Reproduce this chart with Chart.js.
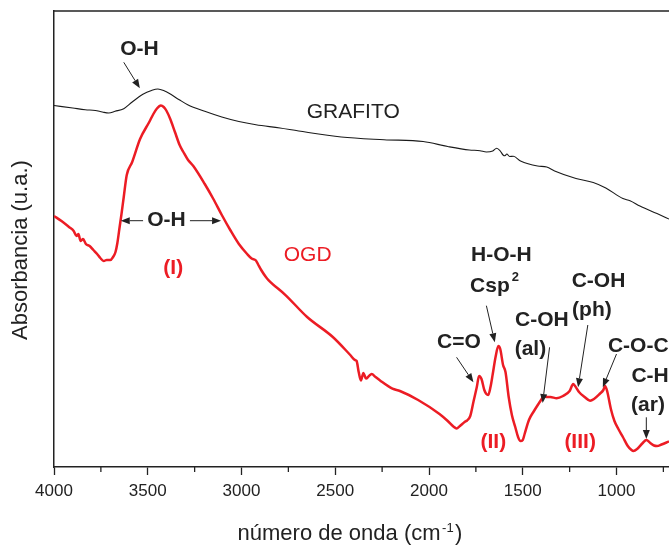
<!DOCTYPE html>
<html>
<head>
<meta charset="utf-8">
<script src="https://cdn.jsdelivr.net/npm/chart.js@4.4.0/dist/chart.umd.min.js"></script>
<style>
  html, body { margin: 0; padding: 0; background: #fff; }
  canvas { display: block; }
</style>
</head>
<body>
<canvas id="ftirChart" width="669" height="547"></canvas>
<script>
// FTIR spectra: wavenumber (cm-1) and absorbance (a.u.)
const grafitoWn  = [4000, 3900, 3833, 3780, 3742, 3708, 3674, 3628, 3583, 3526, 3480, 3446, 3410, 3389, 3332, 3287, 3196, 3105, 3014, 2923, 2795, 2695, 2468, 2240, 2031, 1900, 1785, 1728, 1694, 1660, 1639, 1620, 1605, 1595, 1585, 1570, 1550, 1512, 1421, 1372, 1330, 1216, 1124, 1057, 966, 928, 875, 784, 720];
const grafitoAbs = [361.5, 359, 357.3, 356.5, 355, 354, 355.7, 358.3, 365, 372.7, 376.5, 378, 376, 374, 367.3, 362.3, 355.7, 350, 345.5, 342.3, 339, 336, 330, 327.3, 325.5, 320.5, 317, 316.3, 315, 316, 318.7, 316, 312, 311.3, 313, 310.5, 310.7, 306, 301, 300, 296, 288.5, 284.5, 279, 268.5, 266.3, 261, 253.5, 248];

const ogdWn  = [4000, 3960, 3920, 3895, 3880, 3870, 3858, 3845, 3830, 3810, 3790, 3770, 3753, 3735, 3719, 3700, 3685, 3672, 3662, 3650, 3640, 3628, 3612, 3583, 3541, 3492, 3470, 3451, 3430, 3415, 3401, 3380, 3355, 3330, 3310, 3285, 3257, 3196, 3150, 3105, 3060, 3014, 2970, 2946, 2923, 2910, 2895, 2870, 2855, 2764, 2650, 2513, 2420, 2395, 2386, 2375, 2363, 2350, 2336, 2320, 2306, 2285, 2261, 2195, 2155, 2058, 1944, 1900, 1870, 1853, 1835, 1810, 1797, 1780, 1762, 1745, 1733, 1720, 1705, 1694, 1684, 1672, 1660, 1645, 1630, 1620, 1605, 1592, 1575, 1558, 1540, 1525, 1512, 1500, 1490, 1467, 1440, 1420, 1399, 1390, 1370, 1353, 1319, 1285, 1250, 1231, 1221, 1200, 1170, 1141, 1120, 1090, 1070, 1061, 1050, 1030, 1011, 990, 966, 940, 920, 910, 890, 860, 841, 820, 800, 784, 760, 720];
const ogdAbs = [251, 246, 240, 236, 231, 233, 226, 228, 223, 221, 217, 213, 209, 206, 207, 207, 210, 215, 224, 240, 253, 270, 292, 305, 328, 345, 353, 358.5, 361.5, 360, 356.5, 348, 335, 322, 315, 307, 301, 283, 268, 252, 237, 223, 213, 208.5, 206.5, 202, 197, 190, 186.7, 171.7, 150, 130, 112, 107, 106, 95, 86.5, 94, 88.5, 91, 93, 90, 86.5, 78.3, 76, 67, 53, 46, 40.5, 38.5, 41, 45, 46.5, 51, 66, 80, 91, 88, 77, 73, 72, 80, 93, 110, 121, 118, 102, 95, 70, 52, 40, 30, 26, 27, 33, 47, 56, 62, 68, 71, 70, 70, 68.7, 71, 76, 83, 81, 75, 70, 66.3, 68, 73, 77, 81, 76, 58, 46, 38, 30, 21, 17, 16, 18, 24, 27, 24, 21.5, 21, 22.5, 25.5];

const majorTicks = [4000, 3500, 3000, 2500, 2000, 1500, 1000];
const minorTicks = [3750, 3250, 2750, 2250, 1750, 1250, 750];

// band labels: [text, wavenumber, absorbance, red?, bold?, superscript]
const bandLabels = [
  ['O-H', 3544, 418, false, true, ''],
  ['GRAFITO', 2404, 354.7, false, false, ''],
  ['O-H', 3400, 246.3, false, true, ''],
  ['(I)', 3364, 198.7, true, true, ''],
  ['OGD', 2647, 212, true, false, ''],
  ['H-O-H', 1614, 212, false, true, ''],
  ['Csp', 1675, 180.7, false, true, '2'],
  ['C=O', 1840, 124.3, false, true, ''],
  ['C-OH', 1398, 146.3, false, true, ''],
  ['(al)', 1459, 118, false, true, ''],
  ['C-OH', 1096, 185.3, false, true, ''],
  ['(ph)', 1131, 156.3, false, true, ''],
  ['C-O-C', 884, 120.7, false, true, ''],
  ['C-H', 821, 90.3, false, true, ''],
  ['(ar)', 832, 61.3, false, true, ''],
  ['(II)', 1657, 24.7, true, true, ''],
  ['(III)', 1194, 24.7, true, true, '']
];

// arrows: [fromWn, fromAbs, toWn, toAbs]
const bandArrows = [
  [3628, 404.7, 3542, 378.7],
  [3525, 246.3, 3644, 246.3],
  [3275, 246.3, 3109, 246.3],
  [1694, 161.3, 1649, 124.7],
  [1853, 109.7, 1763, 84.7],
  [1357, 119.7, 1394, 64],
  [1153, 142, 1205, 79.7],
  [1000, 113, 1073, 79.7],
  [841, 49.7, 841, 28]
];

const FONT = 'Liberation Sans, Arial, sans-serif';
const RED = '#ec1c24';
const INK = '#222';

function arrow(ctx, x1, y1, x2, y2) {
  const ang = Math.atan2(y2 - y1, x2 - x1);
  const len = 9, half = 3.5;
  const bx = x2 - len * Math.cos(ang), by = y2 - len * Math.sin(ang);
  ctx.beginPath();
  ctx.moveTo(x1, y1);
  ctx.lineTo(bx, by);
  ctx.stroke();
  ctx.beginPath();
  ctx.moveTo(x2, y2);
  ctx.lineTo(bx - half * Math.sin(ang), by + half * Math.cos(ang));
  ctx.lineTo(bx + half * Math.sin(ang), by - half * Math.cos(ang));
  ctx.closePath();
  ctx.fill();
}

const annotate = {
  id: 'annotate',
  afterDraw(chart) {
    const { ctx, chartArea: a, scales: { x, y } } = chart;
    ctx.save();

    // top frame line
    ctx.strokeStyle = INK;
    ctx.lineWidth = 1.5;
    ctx.beginPath();
    ctx.moveTo(a.left, a.top);
    ctx.lineTo(a.right, a.top);
    ctx.stroke();

    // minor ticks
    ctx.lineWidth = 1.3;
    minorTicks.forEach(v => {
      const px = x.getPixelForValue(v);
      ctx.beginPath();
      ctx.moveTo(px, a.bottom);
      ctx.lineTo(px, a.bottom + 5);
      ctx.stroke();
    });

    // arrows
    ctx.strokeStyle = INK;
    ctx.fillStyle = INK;
    ctx.lineWidth = 1;
    bandArrows.forEach(r => {
      arrow(ctx, x.getPixelForValue(r[0]), y.getPixelForValue(r[1]),
                 x.getPixelForValue(r[2]), y.getPixelForValue(r[3]));
    });

    // band labels
    ctx.textBaseline = 'middle';
    ctx.textAlign = 'left';
    bandLabels.forEach(([text, wn, abs, red, bold, sup]) => {
      const px = x.getPixelForValue(wn);
      const py = y.getPixelForValue(abs);
      ctx.fillStyle = red ? RED : INK;
      ctx.font = (bold ? 'bold ' : '') + '21px ' + FONT;
      const w = ctx.measureText(text).width;
      ctx.fillText(text, px - w / 2, py);
      if (sup) {
        ctx.font = 'bold 13px ' + FONT;
        ctx.fillText(sup, px + w / 2 + 2, py - 9);
      }
    });

    // x axis title with superscript
    ctx.fillStyle = INK;
    ctx.textBaseline = 'alphabetic';
    const main = 'número de onda (cm';
    ctx.font = '22px ' + FONT;
    const wMain = ctx.measureText(main).width;
    const wClose = ctx.measureText(')').width;
    ctx.font = '13px ' + FONT;
    const wSup = ctx.measureText('-1').width;
    const sx = 350 - (wMain + wSup + wClose + 3) / 2;
    ctx.font = '22px ' + FONT;
    ctx.fillText(main, sx, 540);
    ctx.font = '13px ' + FONT;
    ctx.fillText('-1', sx + wMain + 1.5, 532);
    ctx.font = '22px ' + FONT;
    ctx.fillText(')', sx + wMain + wSup + 3, 540);

    // y axis title
    ctx.translate(21, 250);
    ctx.rotate(-Math.PI / 2);
    ctx.textAlign = 'center';
    ctx.textBaseline = 'middle';
    ctx.font = '22px ' + FONT;
    ctx.fillText('Absorbancia (u.a.)', 0, 0);

    ctx.restore();
  }
};

new Chart(document.getElementById('ftirChart'), {
  type: 'line',
  data: {
    datasets: [
      {
        label: 'GRAFITO',
        data: grafitoWn.map((v, i) => ({ x: v, y: grafitoAbs[i] })),
        borderColor: '#1a1a1a',
        borderWidth: 1.1,
        pointRadius: 0,
        cubicInterpolationMode: 'monotone',
        fill: false
      },
      {
        label: 'OGD',
        data: ogdWn.map((v, i) => ({ x: v, y: ogdAbs[i] })),
        borderColor: RED,
        borderWidth: 2.5,
        pointRadius: 0,
        cubicInterpolationMode: 'monotone',
        fill: false
      }
    ]
  },
  options: {
    responsive: false,
    devicePixelRatio: 1,
    animation: false,
    layout: { padding: { top: 11, right: 0, left: 0, bottom: 0 } },
    plugins: {
      legend: { display: false },
      tooltip: { enabled: false }
    },
    scales: {
      x: {
        type: 'linear',
        reverse: true,
        min: 720,
        max: 4000,
        afterBuildTicks: s => { s.ticks = majorTicks.map(v => ({ value: v })); },
        afterFit: s => { s.height = 80; },
        ticks: {
          color: INK,
          font: { family: FONT, size: 17 },
          padding: 6,
          maxRotation: 0,
          autoSkip: false,
          callback: v => String(v)
        },
        grid: { drawOnChartArea: false, drawTicks: true, tickLength: 8, tickColor: INK, tickWidth: 1.3 },
        border: { display: true, color: INK, width: 1.5 }
      },
      y: {
        min: 0,
        max: 456,
        ticks: { display: false },
        grid: { display: false, drawTicks: false },
        border: { display: true, color: INK, width: 1.5 },
        afterFit: s => { s.width = 54; }
      }
    }
  },
  plugins: [annotate]
});
</script>
</body>
</html>
